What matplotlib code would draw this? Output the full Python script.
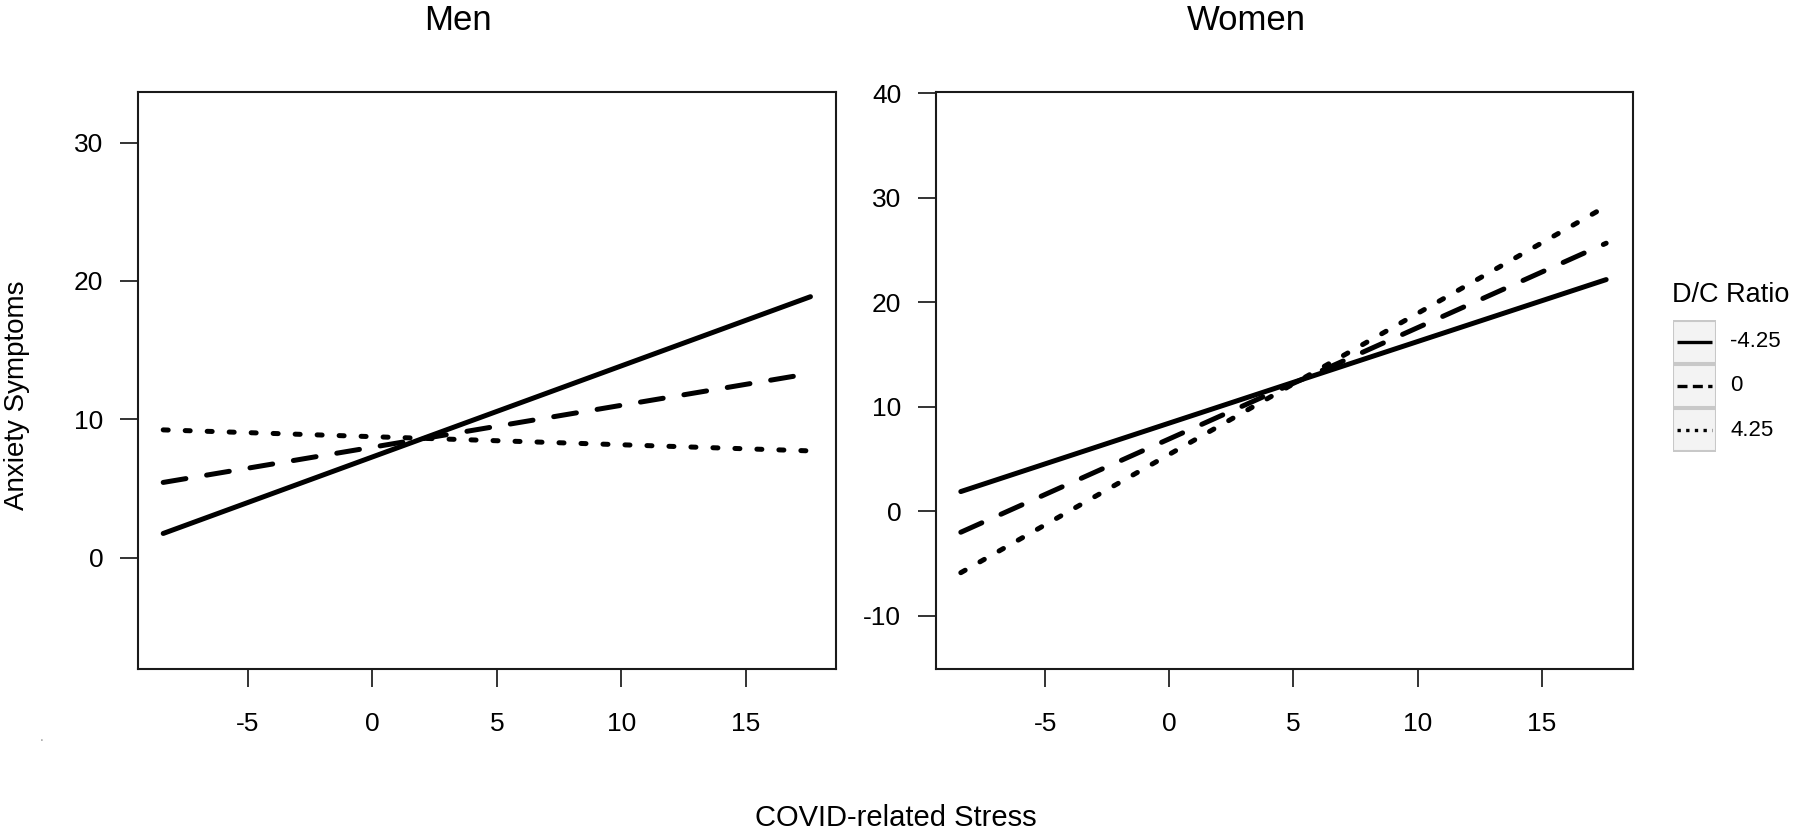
import matplotlib
matplotlib.use('Agg')
import matplotlib.pyplot as plt
from matplotlib.patches import Rectangle

plt.rcParams['font.family'] = ['Liberation Sans', 'DejaVu Sans']

# data
stress = [-8.4, 17.6]
ratio_labels = ['-4.25', '0', '4.25']
men_neg = [1.74, 18.86]
men_zero = [5.43, 13.31]
men_pos = [9.23, 7.71]
women_neg = [1.89, 22.16]
women_zero = [-2.0, 25.64]
women_pos = [-5.87, 29.17]
men_yticks = [0, 10, 20, 30]
women_yticks = [-10, 0, 10, 20, 30, 40]
xticks = [-5, 0, 5, 10, 15]

# line styles (solid / dashed / dotted)
styles = ['-', (0, (4.6, 4.2)), (0, (1.0, 3.4))]
key_styles = ['-', (0, (3.0, 1.6)), (0, (1.0, 1.6))]

fig = plt.figure(figsize=(18, 8.35), dpi=100)

ax1 = fig.add_axes([0.0767, 0.1988, 0.3878, 0.691])
ax2 = fig.add_axes([0.52, 0.1988, 0.3872, 0.691])


def draw_panel(ax, series, yticks, xlim, ylim):
    for vals, ls in zip(series, styles):
        ax.plot(stress, vals, color='black', lw=3.6, linestyle=ls,
                solid_capstyle='round', dash_capstyle='round')
    ax.set_xlim(xlim)
    ax.set_ylim(ylim)
    ax.set_xticks(xticks)
    ax.set_xticklabels([str(t) for t in xticks])
    ax.set_yticks(yticks)
    ax.set_yticklabels([str(t) for t in yticks])
    ax.tick_params(axis='x', length=13, width=1.4, pad=18, labelsize=19, color='#333333')
    ax.tick_params(axis='y', length=13, width=1.4, pad=12, labelsize=19, color='#333333')
    for s in ax.spines.values():
        s.set_linewidth(1.5)
        s.set_color('#1a1a1a')


draw_panel(ax1, [men_neg, men_zero, men_pos], men_yticks, (-9.41, 18.63), (-8.06, 33.66))
draw_panel(ax2, [women_neg, women_zero, women_pos], women_yticks, (-9.40, 18.68), (-15.08, 40.1))

# titles and axis labels
fig.text(458 / 1800, 1 - 21 / 835, 'Men', fontsize=25, ha='center', va='center')
fig.text(1246 / 1800, 1 - 21 / 835, 'Women', fontsize=25, ha='center', va='center')
fig.text(17 / 1800, 1 - 395 / 835, 'Anxiety Symptoms', fontsize=20, rotation=90,
         ha='center', va='center')
fig.text(896 / 1800, 1 - 818 / 835, 'COVID-related Stress', fontsize=21,
         ha='center', va='center')
# stray speck in the original scan
fig.text(42 / 1800, 1 - 737 / 835, '.', fontsize=10, color='#999999',
         ha='center', va='center')

# ggplot-like legend
fig.text(1672 / 1800, 1 - 295 / 835, 'D/C Ratio', fontsize=19.5, ha='left', va='center')
lax = fig.add_axes([1673 / 1800, 1 - 452 / 835, 43 / 1800, 132 / 835])
lax.set_xlim(0, 1)
lax.set_ylim(0, 3)
lax.axis('off')
for i, (lab, ls) in enumerate(zip(ratio_labels, key_styles)):
    y0 = 2 - i
    lax.add_patch(Rectangle((0, y0 + 0.02), 1, 0.96, facecolor='#f3f3f3',
                            edgecolor='#c8c8c8', lw=1.5))
    lax.plot([0.09, 0.91], [y0 + 0.5, y0 + 0.5], color='black', lw=2.4,
             linestyle=ls, solid_capstyle='butt', dash_capstyle='butt')
    lax.text(1.33, y0 + 0.5, lab, fontsize=16, ha='left', va='center',
             clip_on=False)

plt.savefig('out.png', dpi=100)
